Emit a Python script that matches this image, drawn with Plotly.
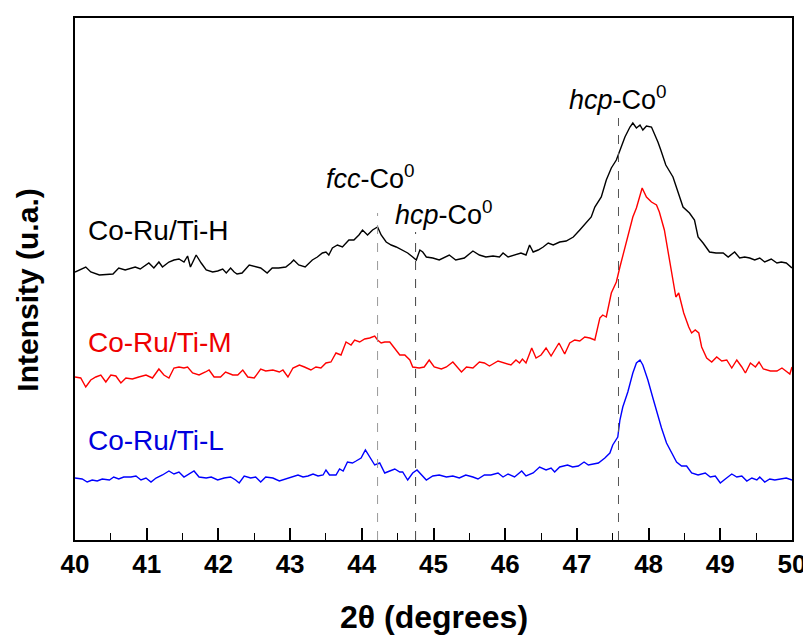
import plotly.graph_objects as go

# ---- data (2theta in degrees, intensity in arbitrary units) ----
h_x = [40.00, 40.08, 40.15, 40.22, 40.34, 40.53, 40.61, 40.70, 40.80, 40.84, 40.91, 41.03, 41.10, 41.17, 41.22,
       41.31, 41.38, 41.45, 41.52, 41.57, 41.61, 41.69, 41.76, 41.83, 41.92, 41.99, 42.06, 42.11, 42.17, 42.22,
       42.26, 42.33, 42.43, 42.52, 42.59, 42.68, 42.75, 42.84, 42.94, 43.01, 43.05, 43.12, 43.21, 43.31, 43.38,
       43.45, 43.50, 43.54, 43.59, 43.66, 43.73, 43.82, 43.89, 43.96, 44.01, 44.08, 44.15, 44.22, 44.27, 44.34,
       44.41, 44.48, 44.57, 44.64, 44.71, 44.76, 44.81, 44.85, 44.90, 44.99, 45.08, 45.22, 45.31, 45.43, 45.55,
       45.64, 45.73, 45.83, 45.92, 45.97, 46.04, 46.13, 46.22, 46.29, 46.34, 46.39, 46.46, 46.53, 46.60, 46.67,
       46.76, 46.85, 46.95, 47.04, 47.13, 47.20, 47.25, 47.34, 47.41, 47.48, 47.55, 47.60, 47.67, 47.74, 47.78,
       47.83, 47.88, 47.92, 47.97, 48.04, 48.08, 48.13, 48.17, 48.24, 48.34, 48.41, 48.48, 48.57, 48.64, 48.69,
       48.76, 48.85, 48.94, 49.04, 49.11, 49.20, 49.27, 49.34, 49.41, 49.48, 49.55, 49.62, 49.71, 49.79, 49.85,
       49.92, 49.98, 50.00]
h_y = [251, 254, 256, 251, 248, 249, 255, 253, 255, 256, 254, 260, 255, 261, 256,
       261, 263, 264, 261, 267, 256, 268, 260, 253, 251, 252, 254, 250, 255, 251,
       249, 250, 258, 256, 255, 250, 255, 255, 256, 260, 263, 258, 256, 263, 266,
       270, 271, 268, 275, 278, 276, 283, 283, 288, 293, 288, 293, 296, 288, 281,
       278, 276, 273, 270, 266, 263, 273, 271, 266, 265, 263, 268, 263, 265, 272,
       268, 266, 267, 266, 270, 266, 268, 270, 268, 278, 271, 273, 276, 280, 278,
       281, 282, 286, 293, 300, 306, 316, 326, 343, 355, 363, 373, 386, 396, 400,
       395, 398, 393, 397, 396, 390, 381, 373, 358, 346, 330, 316, 310, 303, 286,
       280, 271, 270, 270, 266, 271, 265, 266, 265, 263, 265, 261, 264, 260, 261,
       260, 256, 255]

m_x = [40.00, 40.08, 40.15, 40.22, 40.29, 40.36, 40.43, 40.50, 40.57, 40.64, 40.71, 40.80, 40.89, 40.99, 41.08,
       41.17, 41.24, 41.31, 41.38, 41.45, 41.52, 41.57, 41.64, 41.73, 41.82, 41.87, 41.94, 42.03, 42.10, 42.20,
       42.27, 42.34, 42.41, 42.50, 42.59, 42.66, 42.76, 42.85, 42.90, 42.97, 43.04, 43.13, 43.20, 43.29, 43.36,
       43.43, 43.50, 43.57, 43.64, 43.71, 43.78, 43.85, 43.90, 43.97, 44.04, 44.11, 44.18, 44.22, 44.27, 44.32,
       44.39, 44.46, 44.53, 44.60, 44.67, 44.71, 44.80, 44.87, 44.94, 45.01, 45.11, 45.18, 45.27, 45.39, 45.46,
       45.55, 45.64, 45.71, 45.78, 45.90, 46.01, 46.08, 46.15, 46.20, 46.24, 46.29, 46.37, 46.43, 46.50, 46.57,
       46.64, 46.75, 46.83, 46.90, 46.97, 47.04, 47.11, 47.18, 47.25, 47.32, 47.36, 47.41, 47.48, 47.55, 47.60,
       47.67, 47.74, 47.78, 47.83, 47.88, 47.91, 47.97, 48.04, 48.11, 48.15, 48.22, 48.29, 48.34, 48.38, 48.42,
       48.49, 48.56, 48.60, 48.65, 48.70, 48.74, 48.81, 48.88, 48.95, 49.02, 49.09, 49.16, 49.23, 49.30, 49.35,
       49.42, 49.49, 49.54, 49.60, 49.70, 49.79, 49.86, 49.93, 49.97, 50.00]
m_y = [146, 145, 136, 143, 146, 148, 141, 148, 147, 140, 145, 144, 146, 148, 145,
       154, 148, 145, 155, 156, 155, 156, 150, 148, 151, 153, 146, 146, 151, 148,
       148, 153, 146, 145, 154, 152, 153, 151, 153, 146, 155, 158, 156, 153, 156,
       155, 160, 161, 170, 168, 181, 178, 183, 181, 184, 185, 187, 183, 180, 181,
       181, 175, 168, 168, 163, 156, 155, 156, 163, 156, 154, 156, 161, 151, 156,
       155, 161, 160, 157, 162, 160, 158, 163, 160, 164, 160, 175, 165, 168, 175,
       167, 180, 169, 180, 183, 182, 186, 185, 183, 205, 208, 206, 230, 241, 256,
       276, 296, 306, 315, 328, 335, 326, 321, 318, 311, 293, 263, 246, 226, 230,
       210, 196, 190, 193, 190, 176, 165, 161, 166, 162, 163, 155, 163, 156, 150,
       160, 156, 161, 154, 152, 152, 155, 151, 149, 156]

l_x = [40.00, 40.10, 40.17, 40.24, 40.31, 40.38, 40.48, 40.54, 40.61, 40.68, 40.78, 40.85, 40.92, 40.99, 41.06,
       41.13, 41.22, 41.31, 41.38, 41.45, 41.52, 41.59, 41.66, 41.73, 41.83, 41.90, 41.99, 42.08, 42.17, 42.24,
       42.29, 42.36, 42.45, 42.52, 42.59, 42.66, 42.76, 42.85, 42.94, 43.01, 43.11, 43.18, 43.25, 43.32, 43.39,
       43.46, 43.50, 43.55, 43.64, 43.69, 43.74, 43.80, 43.87, 43.92, 43.99, 44.05, 44.11, 44.18, 44.25, 44.32,
       44.39, 44.46, 44.53, 44.57, 44.64, 44.71, 44.77, 44.83, 44.90, 44.99, 45.08, 45.18, 45.27, 45.36, 45.45,
       45.55, 45.62, 45.71, 45.80, 45.90, 45.97, 46.04, 46.13, 46.23, 46.29, 46.39, 46.48, 46.57, 46.64, 46.69,
       46.76, 46.87, 46.94, 47.02, 47.10, 47.16, 47.23, 47.30, 47.39, 47.46, 47.50, 47.57, 47.60, 47.64, 47.71,
       47.78, 47.83, 47.88, 47.92, 47.99, 48.06, 48.13, 48.18, 48.25, 48.32, 48.39, 48.46, 48.53, 48.60, 48.69,
       48.79, 48.86, 48.93, 49.00, 49.07, 49.16, 49.23, 49.30, 49.37, 49.44, 49.51, 49.55, 49.62, 49.69, 49.76,
       49.85, 49.92, 50.00]
l_y = [45, 44, 41, 43, 42, 44, 43, 46, 44, 46, 46, 47, 43, 45, 41,
       45, 48, 52, 49, 51, 46, 49, 52, 46, 45, 46, 43, 45, 46, 43,
       40, 47, 45, 46, 41, 46, 45, 42, 44, 46, 48, 46, 47, 49, 47,
       48, 53, 48, 48, 54, 52, 61, 60, 62, 65, 73, 66, 58, 60, 50,
       52, 54, 51, 51, 43, 50, 53, 48, 43, 47, 48, 46, 47, 45, 48,
       46, 44, 48, 48, 50, 46, 49, 46, 52, 47, 50, 56, 53, 55, 51,
       56, 58, 56, 57, 61, 58, 59, 60, 65, 70, 78, 86, 103, 116, 131,
       150, 160, 163, 158, 143, 125, 106, 95, 80, 70, 61, 57, 57, 50, 48,
       50, 46, 47, 40, 44, 49, 46, 47, 42, 45, 43, 46, 41, 44, 43,
       44, 45, 43]

series_names = ["Co-Ru/Ti-H", "Co-Ru/Ti-M", "Co-Ru/Ti-L"]
series_colors = ["#000000", "#ff0000", "#0000ff"]
label_colors = ["#000000", "#ee0000", "#0000dd"]
label_y = [293, 181, 83]

ref_x = [44.22, 44.75, 47.58]
ref_top = [310, 291, 405]
ref_labels = ["<i>fcc</i>-Co<sup>0</sup>", "<i>hcp</i>-Co<sup>0</sup>", "<i>hcp</i>-Co<sup>0</sup>"]
ref_label_x = [44.12, 45.15, 47.58]
ref_label_y = [346, 310, 425]
ref_colors = ["#999999", "#444444", "#555555"]

x_ticks = list(range(40, 51))

fig = go.Figure()
for xs, ys, name, col in zip([h_x, m_x, l_x], [h_y, m_y, l_y], series_names, series_colors):
    fig.add_trace(go.Scatter(x=xs, y=ys, mode="lines", name=name,
                             line=dict(color=col, width=1.4), showlegend=False))

for xv, top, col in zip(ref_x, ref_top, ref_colors):
    fig.add_shape(type="line", x0=xv, x1=xv, y0=-17, y1=top, xref="x", yref="y",
                  line=dict(color=col, width=1, dash="dash"))

sans = "Liberation Sans, Arial, sans-serif"

for txt, xv, yv in zip(ref_labels, ref_label_x, ref_label_y):
    fig.add_annotation(x=xv, y=yv, text=txt, showarrow=False, xanchor="center", yanchor="middle",
                       font=dict(family=sans, size=27, color="#000000"))

for name, col, yv in zip(series_names, label_colors, label_y):
    fig.add_annotation(x=40.15, y=yv, text=name, showarrow=False, xanchor="left", yanchor="middle",
                       font=dict(family=sans, size=28, color=col))

# axis titles
fig.add_annotation(x=0.5, y=-0.148, xref="paper", yref="paper", text="2θ (degrees)", showarrow=False,
                   xanchor="center", yanchor="middle",
                   font=dict(family=sans, size=32, color="black", weight="bold"))
fig.add_annotation(x=-0.066, y=0.479, xref="paper", yref="paper", text="Intensity (u.a.)", showarrow=False,
                   xanchor="center", yanchor="middle", textangle=-90,
                   font=dict(family=sans, size=30, color="black", weight="bold"))

# the page body adds an 8 px offset, so margins are reduced by 8 px on the left/top
fig.update_layout(
    width=811, height=639,
    margin=dict(l=67, r=27, t=10, b=107, autoexpand=False),
    paper_bgcolor="white", plot_bgcolor="white",
    xaxis=dict(range=[40, 50], tickvals=x_ticks, ticktext=[str(v) for v in x_ticks],
               ticks="inside", ticklen=12, tickwidth=1.5, tickcolor="black",
               minor=dict(dtick=0.5, tick0=40, ticks="inside", ticklen=7, tickwidth=1.2, tickcolor="black"),
               showline=True, linecolor="black", linewidth=1.5, mirror=True,
               showgrid=False, zeroline=False, automargin=False,
               tickfont=dict(family=sans, size=26, color="black", weight="bold"),
               ticklabelstandoff=0),
    yaxis=dict(range=[-17, 505], showticklabels=False, ticks="",
               showline=True, linecolor="black", linewidth=1.5, mirror=True,
               showgrid=False, zeroline=False, automargin=False),
)

fig.write_html("out.html")
